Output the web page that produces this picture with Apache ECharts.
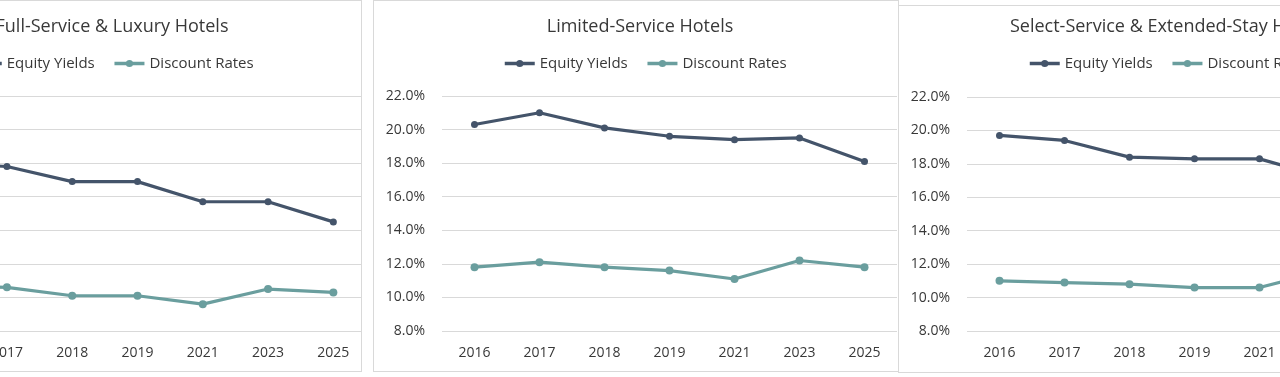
<!DOCTYPE html>
<html>
<head>
<meta charset="utf-8">
<script src="https://cdn.jsdelivr.net/npm/echarts@6/dist/echarts.min.js"></script>
<style>
html, body { margin: 0; padding: 0; width: 1280px; height: 377px; overflow: hidden; background: #fff; }
body { position: relative; }
.panel { position: absolute; border: 1px solid #d9d9d9; overflow: hidden; background: #fff; }
.chart { position: absolute; left: 0; top: 0; }
</style>
</head>
<body>
<div class="panel" style="left:-170px;top:0;width:530px;height:370px"><div class="chart" id="c1" style="width:540px;height:370px"></div></div>
<div class="panel" style="left:373px;top:0;width:524px;height:370px"><div class="chart" id="c2" style="width:524px;height:370px"></div></div>
<div class="panel" style="left:898px;top:5px;width:524px;height:366px"><div class="chart" id="c3" style="width:524px;height:366px"></div></div>
<script>
var years = ['2016', '2017', '2018', '2019', '2021', '2023', '2025'];
var seriesNames = ['Equity Yields', 'Discount Rates'];

// values in %
var fullEquity = [18.0, 17.8, 16.9, 16.9, 15.7, 15.7, 14.5];
var fullDiscount = [10.7, 10.6, 10.1, 10.1, 9.6, 10.5, 10.3];
var limitedEquity = [20.3, 21.0, 20.1, 19.6, 19.4, 19.5, 18.1];
var limitedDiscount = [11.8, 12.1, 11.8, 11.6, 11.1, 12.2, 11.8];
var selectEquity = [19.7, 19.4, 18.4, 18.3, 18.3, 17.2, 16.9];
var selectDiscount = [11.0, 10.9, 10.8, 10.6, 10.6, 11.6, 11.4];

var yMin = 8, yMax = 22, yStep = 2;

var font = '"Open Sans", "Noto Sans", sans-serif';
var colors = ['#44546a', '#6a9e9e'];
var textColor = '#383838';

function makeOption(title, equity, discount, lay) {
    return {
        animation: false,
        color: colors,
        title: {
            text: title,
            left: lay.titleX,
            top: lay.titleTop,
            padding: 0,
            textAlign: 'center',
            textStyle: { fontFamily: font, fontSize: 18, fontWeight: 'normal', color: textColor }
        },
        legend: {
            data: seriesNames,
            left: lay.legendLeft,
            top: lay.legendTop,
            padding: 0,
            itemWidth: 30,
            itemHeight: 9,
            itemGap: 18,
            lineStyle: { width: 3.5 },
            textStyle: { fontFamily: font, fontSize: 15, color: textColor }
        },
        grid: {
            left: lay.left,
            top: lay.top,
            width: lay.width,
            height: lay.height,
            containLabel: false
        },
        xAxis: {
            type: 'category',
            data: years,
            boundaryGap: true,
            axisLine: { show: false },
            axisTick: { show: false },
            axisLabel: { fontFamily: font, fontSize: 14, color: textColor, margin: 15 }
        },
        yAxis: {
            type: 'value',
            min: yMin,
            max: yMax,
            interval: yStep,
            axisLine: { show: false },
            axisTick: { show: false },
            splitLine: { lineStyle: { color: '#d9d9d9', width: 1 } },
            axisLabel: {
                fontFamily: font, fontSize: 14, color: textColor, margin: 17,
                formatter: function (v) { return v.toFixed(1) + '%'; }
            }
        },
        series: [
            {
                name: seriesNames[0],
                type: 'line',
                data: equity,
                symbol: 'circle',
                symbolSize: 7,
                lineStyle: { width: 3.2 }
            },
            {
                name: seriesNames[1],
                type: 'line',
                data: discount,
                symbol: 'circle',
                symbolSize: 8,
                lineStyle: { width: 3.2 }
            }
        ]
    };
}

var chart1 = echarts.init(document.getElementById('c1'));
chart1.setOption(makeOption('Full-Service & Luxury Hotels', fullEquity, fullDiscount, {
    titleX: 281, titleTop: 17, legendLeft: 139, legendTop: 55,
    left: 78, top: 95, width: 457, height: 235
}));

var chart2 = echarts.init(document.getElementById('c2'));
chart2.setOption(makeOption('Limited-Service Hotels', limitedEquity, limitedDiscount, {
    titleX: 266, titleTop: 17, legendLeft: 129, legendTop: 55,
    left: 68, top: 95, width: 455, height: 235
}));

var chart3 = echarts.init(document.getElementById('c3'));
chart3.setOption(makeOption('Select-Service & Extended-Stay Hotels', selectEquity, selectDiscount, {
    titleX: 269, titleTop: 12, legendLeft: 129, legendTop: 50,
    left: 68, top: 91, width: 455, height: 234
}));
</script>
</body>
</html>
